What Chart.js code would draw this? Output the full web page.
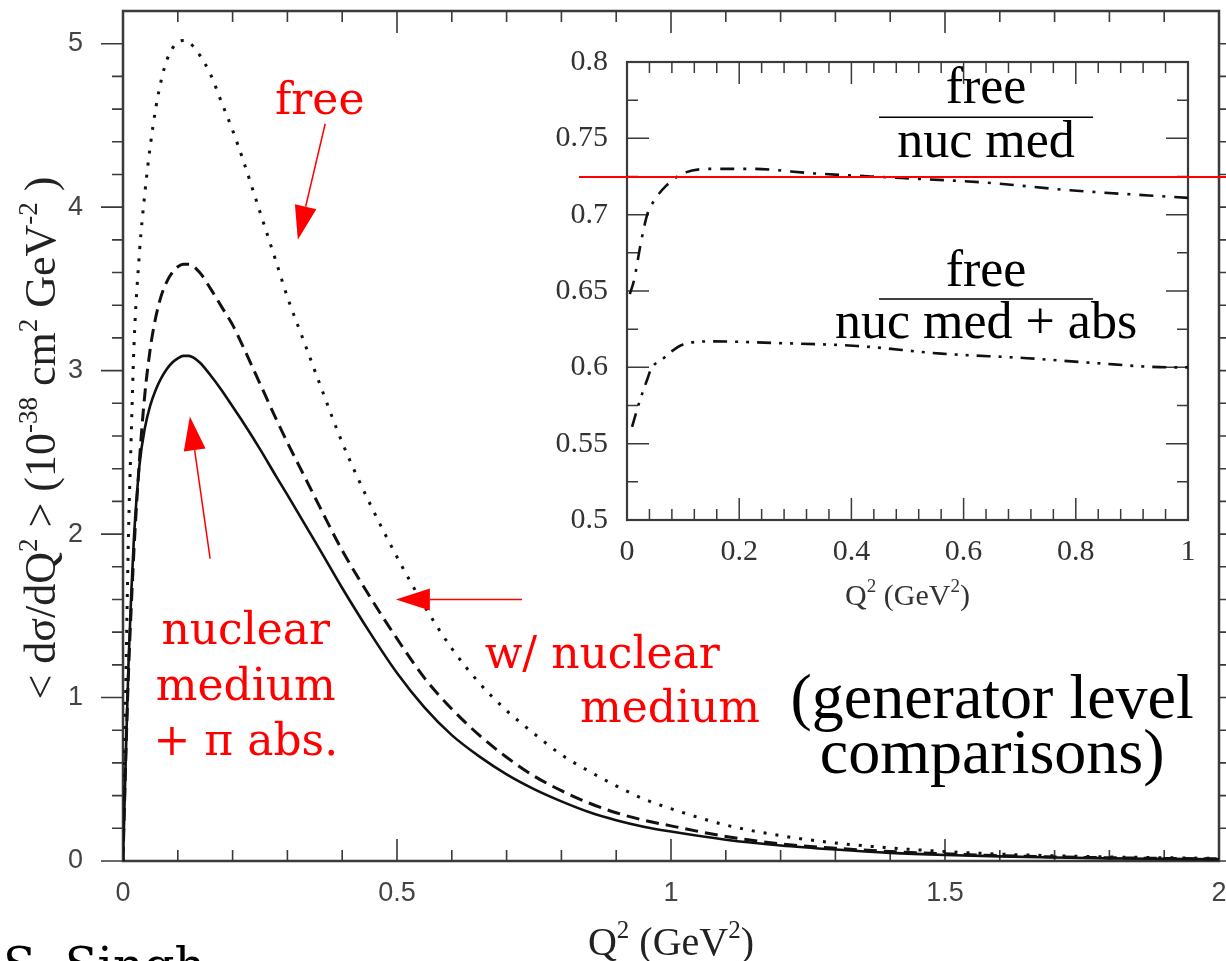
<!DOCTYPE html>
<html>
<head>
<meta charset="utf-8">
<script src="https://cdn.jsdelivr.net/npm/chart.js@4.4.1/dist/chart.umd.min.js"></script>
<style>
  html, body { margin: 0; padding: 0; background: #fff; }
  #wrap { position: relative; width: 1226px; height: 961px; overflow: hidden; background: #fff; }
  #mainChart { position: absolute; left: 0; top: 0; }
  #insetChart { position: absolute; left: 540px; top: 30px; }
</style>
</head>
<body>
<div id="wrap">
  <canvas id="mainChart" width="1226" height="961"></canvas>
  <canvas id="insetChart" width="686" height="590"></canvas>
</div>
<script>
// Q^2 grid (GeV^2) and flux-averaged dsigma/dQ^2 (10^-38 cm^2 GeV^-2)
const q2 = [0, 0.005, 0.01, 0.015, 0.02, 0.03, 0.04, 0.05, 0.06, 0.07, 0.08, 0.09, 0.1, 0.11, 0.12,
  0.14, 0.16, 0.18, 0.2, 0.22, 0.25, 0.28, 0.3, 0.33, 0.36, 0.4, 0.45, 0.5, 0.55, 0.6, 0.65, 0.7,
  0.75, 0.8, 0.85, 0.9, 0.95, 1.0, 1.1, 1.2, 1.3, 1.4, 1.5, 1.6, 1.7, 1.8, 1.9, 2.0];
const freeXsec = [0, 1.05, 2.0, 2.6, 3.15, 3.72, 4.09, 4.38, 4.61, 4.78, 4.9, 4.97, 5.01, 5.02, 5.01,
  4.93, 4.81, 4.64, 4.47, 4.28, 3.97, 3.66, 3.45, 3.18, 2.91, 2.56, 2.19, 1.86, 1.56, 1.3, 1.09, 0.92,
  0.78, 0.65, 0.55, 0.46, 0.38, 0.32, 0.22, 0.155, 0.11, 0.08, 0.058, 0.042, 0.032, 0.025, 0.02, 0.016];
const nucMedXsec = [0, 0.62, 1.15, 1.55, 1.9, 2.45, 2.86, 3.14, 3.33, 3.46, 3.545, 3.6, 3.635, 3.65, 3.65,
  3.6, 3.5, 3.39, 3.28, 3.14, 2.92, 2.7, 2.56, 2.36, 2.16, 1.9, 1.62, 1.36, 1.12, 0.93, 0.77, 0.635,
  0.52, 0.43, 0.355, 0.295, 0.25, 0.215, 0.15, 0.105, 0.078, 0.058, 0.044, 0.033, 0.025, 0.02, 0.016, 0.013];
const nucMedAbsXsec = [0, 0.62, 1.2, 1.63, 1.98, 2.42, 2.65, 2.79, 2.885, 2.955, 3.01, 3.05, 3.075, 3.09, 3.09,
  3.05, 2.97, 2.88, 2.78, 2.68, 2.52, 2.35, 2.24, 2.07, 1.9, 1.67, 1.4, 1.15, 0.94, 0.77, 0.64, 0.53,
  0.44, 0.365, 0.3, 0.25, 0.21, 0.18, 0.13, 0.095, 0.07, 0.05, 0.037, 0.028, 0.021, 0.016, 0.013, 0.01];
const mainYTicks = [0, 1, 2, 3, 4, 5];
const mainXTicks = [0, 0.5, 1, 1.5, 2];

// ratios shown in the inset
const q2RatioMed = [0.005, 0.0125, 0.025, 0.036, 0.048, 0.07, 0.1, 0.15, 0.22, 0.335, 0.49, 0.64, 0.79, 1.0];
const ratioFreeMed = [0.648, 0.657, 0.682, 0.7, 0.709, 0.719, 0.727, 0.73, 0.73, 0.727, 0.724, 0.721, 0.716, 0.711];
const q2RatioAbs = [0.009, 0.021, 0.036, 0.043, 0.062, 0.1, 0.153, 0.258, 0.41, 0.56, 0.713, 0.827, 0.97, 1.0];
const ratioFreeMedAbs = [0.561, 0.576, 0.592, 0.599, 0.605, 0.615, 0.617, 0.616, 0.614, 0.609, 0.606, 0.603, 0.6, 0.6];
const insetYTicks = [0.5, 0.55, 0.6, 0.65, 0.7, 0.75, 0.8];
const insetXTicks = [0, 0.2, 0.4, 0.6, 0.8, 1];
const refRatio = 0.725;

const pts = (xs, ys) => xs.map((x, i) => ({ x: x, y: ys[i] }));

function tickRange(min, max, step) {
  const out = [];
  for (let i = 0; min + i * step <= max + 1e-9; i++) out.push(+(min + i * step).toFixed(5));
  return out;
}
const isMajor = (v, step) => Math.abs(v / step - Math.round(v / step)) < 1e-6;

// fixed axis box, no extra room reserved for edge labels
function fixBox(size, horizontal) {
  return s => {
    if (horizontal) s.height = size; else s.width = size;
    s.paddingTop = s.paddingBottom = s.paddingLeft = s.paddingRight = 0;
  };
}

// text with superscripts: parts = [[text, isSup], ...]
function drawRich(ctx, parts, x, y, size, family, align) {
  const supSize = Math.round(size * 0.62);
  let total = 0;
  parts.forEach(p => {
    ctx.font = (p[1] ? supSize : size) + 'px ' + family;
    total += ctx.measureText(p[0]).width;
  });
  let cx = align === 'center' ? x - total / 2 : x;
  ctx.textAlign = 'left';
  ctx.textBaseline = 'alphabetic';
  parts.forEach(p => {
    ctx.font = (p[1] ? supSize : size) + 'px ' + family;
    ctx.fillText(p[0], cx, p[1] ? y - size * 0.42 : y);
    cx += ctx.measureText(p[0]).width;
  });
}

function drawArrow(ctx, x0, y0, x1, y1) {
  const ang = Math.atan2(y1 - y0, x1 - x0);
  const hl = 34, hw = 11;
  const bx = x1 - hl * Math.cos(ang), by = y1 - hl * Math.sin(ang);
  ctx.beginPath();
  ctx.moveTo(x0, y0);
  ctx.lineTo(bx, by);
  ctx.stroke();
  ctx.beginPath();
  ctx.moveTo(x1, y1);
  ctx.lineTo(bx + hw * Math.sin(ang), by - hw * Math.cos(ang));
  ctx.lineTo(bx - hw * Math.sin(ang), by + hw * Math.cos(ang));
  ctx.closePath();
  ctx.fill();
}

const mainDecor = {
  id: 'mainDecor',
  beforeDatasetsDraw(chart) {
    const { ctx, chartArea: a, scales: { x, y } } = chart;
    ctx.save();
    ctx.strokeStyle = '#3a3a3a';
    ctx.lineWidth = 1.6;
    ctx.beginPath();
    tickRange(0, 5, 0.2).forEach(v => {
      const py = y.getPixelForValue(v);
      const len = isMajor(v, 1) ? 22 : 11;
      ctx.moveTo(a.left, py); ctx.lineTo(a.left - len, py);
      ctx.moveTo(a.right, py); ctx.lineTo(a.right + len, py);
    });
    tickRange(0, 2, 0.1).forEach(v => {
      const px = x.getPixelForValue(v);
      const len = isMajor(v, 0.5) ? 22 : 11;
      ctx.moveTo(px, a.bottom); ctx.lineTo(px, a.bottom - len);
      ctx.moveTo(px, a.top); ctx.lineTo(px, a.top + len);
    });
    ctx.stroke();
    ctx.lineWidth = 2.5;
    ctx.strokeRect(a.left, a.top, a.right - a.left, a.bottom - a.top);
    ctx.restore();
  },
  afterDraw(chart) {
    const { ctx, scales: { x, y } } = chart;
    const X = v => x.getPixelForValue(v), Y = v => y.getPixelForValue(v);
    ctx.save();

    // axis titles
    ctx.fillStyle = '#222';
    drawRich(ctx, [['Q', false], ['2', true], [' (GeV', false], ['2', true], [')', false]],
      X(1), 955, 40, '"Liberation Serif"', 'center');
    ctx.save();
    ctx.translate(55, 438);
    ctx.rotate(-Math.PI / 2);
    drawRich(ctx, [['< dσ/dQ', false], ['2', true], [' > (10', false], ['-38', true], [' cm', false],
      ['2', true], [' GeV', false], ['-2', true], [' )', false]], 0, 0, 44, '"Liberation Serif"', 'center');
    ctx.restore();

    // red annotations
    ctx.fillStyle = '#ff0000';
    ctx.strokeStyle = '#ff0000';
    ctx.lineWidth = 1.5;
    ctx.font = '44px "DejaVu Serif"';
    ctx.textBaseline = 'alphabetic';
    ctx.textAlign = 'center';
    ctx.fillText('free', X(0.359), Y(4.567));
    ctx.fillText('nuclear', X(0.224), Y(1.329));
    ctx.fillText('medium', X(0.224), Y(0.988));
    ctx.fillText('+ π abs.', X(0.224), Y(0.646));
    ctx.textAlign = 'left';
    ctx.fillText('w/ nuclear', X(0.66), Y(1.183));
    ctx.fillText('medium', X(0.834), Y(0.848));
    drawArrow(ctx, X(0.369), Y(4.51), X(0.319), Y(3.80));
    drawArrow(ctx, X(0.159), Y(1.85), X(0.122), Y(2.72));
    drawArrow(ctx, X(0.728), Y(1.60), X(0.498), Y(1.60));

    ctx.fillStyle = '#000';
    ctx.textAlign = 'center';
    ctx.font = '64px "Liberation Serif"';
    ctx.fillText('(generator level', X(1.586), Y(0.872));
    ctx.fillText('comparisons)', X(1.586), Y(0.537));

    ctx.textAlign = 'left';
    ctx.font = '48px "DejaVu Serif"';
    ctx.fillText('S. Singh', 3, 982);
    ctx.restore();
  }
};

new Chart(document.getElementById('mainChart'), {
  type: 'line',
  data: {
    datasets: [
      { label: 'free', data: pts(q2, freeXsec), borderColor: '#111', borderWidth: 3,
        borderDash: [3, 9], cubicInterpolationMode: 'monotone' },
      { label: 'nuclear medium', data: pts(q2, nucMedXsec), borderColor: '#111', borderWidth: 3,
        borderDash: [13, 7], cubicInterpolationMode: 'monotone' },
      { label: 'nuclear medium + pi abs.', data: pts(q2, nucMedAbsXsec), borderColor: '#111', borderWidth: 2.6,
        cubicInterpolationMode: 'monotone' }
    ]
  },
  options: {
    responsive: false,
    animation: false,
    layout: { autoPadding: false, padding: { left: 0, top: 11, right: 7, bottom: 0 } },
    elements: { point: { radius: 0 } },
    plugins: { legend: { display: false }, tooltip: { enabled: false } },
    scales: {
      x: {
        type: 'linear', min: 0, max: 2,
        grid: { display: false }, border: { display: false },
        afterBuildTicks: s => { s.ticks = mainXTicks.map(v => ({ value: v })); },
        afterFit: fixBox(100, true),
        ticks: { padding: 8, color: '#444', font: { family: '"Liberation Sans"', size: 27 },
          autoSkip: false, maxRotation: 0, callback: v => String(v) }
      },
      y: {
        type: 'linear', min: 0, max: 5.2,
        grid: { display: false }, border: { display: false },
        afterBuildTicks: s => { s.ticks = mainYTicks.map(v => ({ value: v })); },
        afterFit: fixBox(123, false),
        ticks: { padding: 32, color: '#444', font: { family: '"Liberation Sans"', size: 27 },
          callback: v => String(v) }
      }
    }
  },
  plugins: [mainDecor]
});

const insetDecor = {
  id: 'insetDecor',
  beforeDatasetsDraw(chart) {
    const { ctx, chartArea: a, scales: { x, y } } = chart;
    ctx.save();
    ctx.strokeStyle = '#3a3a3a';
    ctx.lineWidth = 1.5;
    ctx.beginPath();
    tickRange(0.5, 0.8, 0.025).forEach(v => {
      const py = y.getPixelForValue(v);
      const len = isMajor(v, 0.05) ? 22 : 11;
      ctx.moveTo(a.left, py); ctx.lineTo(a.left + len, py);
      ctx.moveTo(a.right, py); ctx.lineTo(a.right - len, py);
    });
    tickRange(0, 1, 0.04).forEach(v => {
      const px = x.getPixelForValue(v);
      const len = isMajor(v, 0.2) ? 22 : 11;
      ctx.moveTo(px, a.bottom); ctx.lineTo(px, a.bottom - len);
      ctx.moveTo(px, a.top); ctx.lineTo(px, a.top + len);
    });
    ctx.stroke();
    ctx.lineWidth = 2.2;
    ctx.strokeRect(a.left, a.top, a.right - a.left, a.bottom - a.top);
    ctx.restore();
  },
  afterDraw(chart) {
    const { ctx, scales: { x, y } } = chart;
    const X = v => x.getPixelForValue(v), Y = v => y.getPixelForValue(v);
    ctx.save();

    // reference level across the inset
    ctx.strokeStyle = '#ff0000';
    ctx.lineWidth = 2;
    ctx.beginPath();
    ctx.moveTo(39, Math.round(Y(refRatio)));
    ctx.lineTo(chart.width, Math.round(Y(refRatio)));
    ctx.stroke();

    // ratio labels as fractions
    const cx = X(0.64), half = 107;
    ctx.fillStyle = '#000';
    ctx.strokeStyle = '#000';
    ctx.lineWidth = 1.5;
    ctx.font = '52px "Liberation Serif"';
    ctx.textAlign = 'center';
    ctx.textBaseline = 'alphabetic';
    ctx.fillText('free', cx, Y(0.773));
    ctx.fillText('nuc med', cx, Y(0.7375));
    ctx.fillText('free', cx, Y(0.6533));
    ctx.fillText('nuc med + abs', cx, Y(0.619));
    ctx.beginPath();
    ctx.moveTo(cx - half, Y(0.7638)); ctx.lineTo(cx + half, Y(0.7638));
    ctx.moveTo(cx - half, Y(0.6447)); ctx.lineTo(cx + half, Y(0.6447));
    ctx.stroke();

    ctx.fillStyle = '#333';
    drawRich(ctx, [['Q', false], ['2', true], [' (GeV', false], ['2', true], [')', false]],
      X(0.5), 575, 30, '"Liberation Serif"', 'center');
    ctx.restore();
  }
};

new Chart(document.getElementById('insetChart'), {
  type: 'line',
  data: {
    datasets: [
      { label: 'free / nuc med', data: pts(q2RatioMed, ratioFreeMed), borderColor: '#111', borderWidth: 2.6,
        borderDash: [14, 9, 3, 9], cubicInterpolationMode: 'monotone' },
      { label: 'free / nuc med + abs', data: pts(q2RatioAbs, ratioFreeMedAbs), borderColor: '#111', borderWidth: 2.6,
        borderDash: [14, 8, 3, 8, 3, 8], cubicInterpolationMode: 'monotone' }
    ]
  },
  options: {
    responsive: false,
    animation: false,
    layout: { autoPadding: false, padding: { left: 0, top: 32, right: 38, bottom: 0 } },
    elements: { point: { radius: 0 } },
    plugins: { legend: { display: false }, tooltip: { enabled: false } },
    scales: {
      x: {
        type: 'linear', min: 0, max: 1,
        grid: { display: false }, border: { display: false },
        afterBuildTicks: s => { s.ticks = insetXTicks.map(v => ({ value: v })); },
        afterFit: fixBox(100, true),
        ticks: { padding: 6, color: '#333', font: { family: '"Liberation Serif"', size: 30 },
          autoSkip: false, maxRotation: 0, callback: v => String(v) }
      },
      y: {
        type: 'linear', min: 0.5, max: 0.8,
        grid: { display: false }, border: { display: false },
        afterBuildTicks: s => { s.ticks = insetYTicks.map(v => ({ value: v })); },
        afterFit: fixBox(87, false),
        ticks: { padding: 11, color: '#333', font: { family: '"Liberation Serif"', size: 30 },
          callback: v => String(v) }
      }
    }
  },
  plugins: [insetDecor]
});
</script>
</body>
</html>
